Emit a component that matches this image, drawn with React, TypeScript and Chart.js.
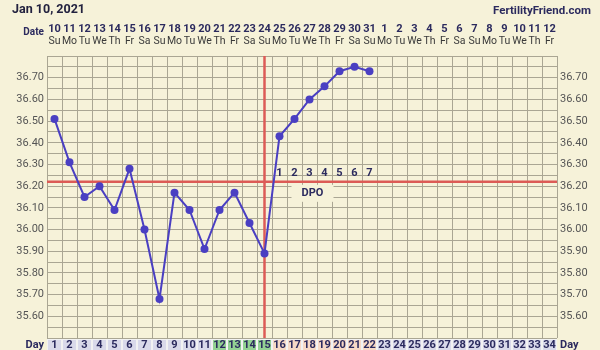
import React, { useEffect, useRef } from "react";
import { Chart, registerables } from "chart.js";

Chart.register(...registerables);

// ---- data ----
const cycleDays = Array.from({ length: 34 }, (_, i) => i + 1);
const dateLabels = [
  "10", "11", "12", "13", "14", "15", "16", "17", "18", "19", "20", "21", "22", "23", "24", "25", "26",
  "27", "28", "29", "30", "31", "1", "2", "3", "4", "5", "6", "7", "8", "9", "10", "11", "12",
];
const weekdayLabels = [
  "Su", "Mo", "Tu", "We", "Th", "Fr", "Sa", "Su", "Mo", "Tu", "We", "Th", "Fr", "Sa", "Su", "Mo", "Tu",
  "We", "Th", "Fr", "Sa", "Su", "Mo", "Tu", "We", "Th", "Fr", "Sa", "Su", "Mo", "Tu", "We", "Th", "Fr",
];
const temps = [
  36.51, 36.31, 36.15, 36.2, 36.09, 36.28, 36.0, 35.68, 36.17, 36.09, 35.91, 36.09, 36.17, 36.03, 35.89,
  36.43, 36.51, 36.6, 36.66, 36.73, 36.75, 36.73,
];
const yTickLabels = [35.6, 35.7, 35.8, 35.9, 36.0, 36.1, 36.2, 36.3, 36.4, 36.5, 36.6, 36.7];
const yMin = 35.5;
const yMax = 36.8;
const coverline = 36.22;
const ovulationDay = 15;
const dpoLabels = ["1", "2", "3", "4", "5", "6", "7"];
const dpoDays = [16, 17, 18, 19, 20, 21, 22];
const fertileDays = [12, 13, 14, 15];
const lutealDays = [16, 17, 18, 19, 20, 21, 22];
const titleText = "Jan 10, 2021";
const siteText = "FertilityFriend.com";

const BG = "#f6f2d9";
const GRID = "#aaa693";
const NAVY = "#2b2a5e";
const RED = "#dc5b56";
const LINE = "#4a3fc2";
const FONT = "Roboto, 'Noto Sans', Arial, sans-serif";

const bbtPlugin = {
  id: "bbtDecor",
  beforeDraw(chart: any) {
    const { ctx, width, height } = chart;
    ctx.save();
    ctx.fillStyle = BG;
    ctx.fillRect(0, 0, width, height);
    ctx.restore();
  },
  beforeDatasetsDraw(chart: any) {
    const { ctx, chartArea } = chart;
    const x = chart.scales.x;
    const y = chart.scales.y;
    ctx.save();
    // DPO label box
    const dpoX = (x.getPixelForValue(17) + x.getPixelForValue(19)) / 2 + 3;
    const dpoY = y.getPixelForValue(coverline) + 11;
    ctx.fillStyle = BG;
    ctx.fillRect(dpoX - 21, dpoY - 8, 42, 17);
    ctx.font = `bold 11px ${FONT}`;
    ctx.fillStyle = NAVY;
    ctx.textAlign = "center";
    ctx.textBaseline = "middle";
    ctx.fillText("DPO", dpoX, dpoY);
    // coverline
    ctx.strokeStyle = RED;
    ctx.lineWidth = 2.5;
    ctx.beginPath();
    const cy = y.getPixelForValue(coverline);
    ctx.moveTo(chartArea.left, cy);
    ctx.lineTo(chartArea.right, cy);
    ctx.stroke();
    // ovulation line
    const ox = x.getPixelForValue(ovulationDay);
    ctx.beginPath();
    ctx.moveTo(ox, chartArea.top);
    ctx.lineTo(ox, chartArea.bottom);
    ctx.stroke();
    ctx.restore();
  },
  afterDraw(chart: any) {
    const { ctx, chartArea } = chart;
    const x = chart.scales.x;
    const y = chart.scales.y;
    ctx.save();
    // title & site
    ctx.textBaseline = "middle";
    ctx.font = `bold 12.5px ${FONT}`;
    ctx.fillStyle = "#23223f";
    ctx.textAlign = "left";
    ctx.fillText(titleText, 12, 10);
    ctx.font = `bold 11.5px ${FONT}`;
    ctx.textAlign = "right";
    ctx.fillStyle = NAVY;
    ctx.fillText(siteText, 591, 11);

    // Date header
    ctx.font = `bold 10px ${FONT}`;
    ctx.fillStyle = NAVY;
    ctx.textAlign = "right";
    ctx.fillText("Date", 44, 32.5);
    cycleDays.forEach((d, i) => {
      const px = x.getPixelForValue(d);
      ctx.font = `bold 11px ${FONT}`;
      ctx.fillStyle = NAVY;
      ctx.textAlign = "center";
      ctx.fillText(dateLabels[i], px, 29.5);
      ctx.font = `10.5px ${FONT}`;
      ctx.fillStyle = "#3a3a3a";
      ctx.fillText(weekdayLabels[i], px, 41.5);
    });

    // y labels both sides
    ctx.font = `11px ${FONT}`;
    ctx.fillStyle = "#555555";
    yTickLabels.forEach((v) => {
      const py = y.getPixelForValue(v);
      ctx.textAlign = "right";
      ctx.fillText(v.toFixed(2), 44, py);
      ctx.textAlign = "left";
      ctx.fillText(v.toFixed(2), 560, py);
    });

    // DPO numbers
    ctx.font = `bold 11px ${FONT}`;
    ctx.fillStyle = NAVY;
    ctx.textAlign = "center";
    const ny = y.getPixelForValue(coverline) - 9;
    dpoDays.forEach((d, i) => {
      ctx.fillText(dpoLabels[i], x.getPixelForValue(d), ny);
    });

    // Day row
    const rowTop = chartArea.bottom + 1;
    const rowH = 15;
    cycleDays.forEach((d) => {
      const l = x.getPixelForValue(d - 0.5);
      const r = x.getPixelForValue(d + 0.5);
      let fill = "#d9d9ea";
      if (fertileDays.includes(d)) fill = "#93d293";
      else if (lutealDays.includes(d)) fill = "#f7d9c6";
      ctx.fillStyle = fill;
      ctx.fillRect(l, rowTop, r - l, rowH);
      ctx.strokeStyle = "#f2f2f2";
      ctx.lineWidth = 1;
      ctx.strokeRect(l + 0.5, rowTop + 0.5, r - l - 1, rowH);
    });
    ctx.font = `bold 11px ${FONT}`;
    ctx.fillStyle = NAVY;
    ctx.textAlign = "center";
    cycleDays.forEach((d) => {
      ctx.fillText(String(d), x.getPixelForValue(d), rowTop + 6.5);
    });
    ctx.textAlign = "right";
    ctx.fillText("Day", 44, rowTop + 6.5);
    ctx.textAlign = "left";
    ctx.fillText("Day", 560, rowTop + 6.5);
    ctx.restore();
  },
};

export default function App() {
  const ref = useRef<HTMLCanvasElement | null>(null);
  useEffect(() => {
    if (!ref.current) return;
    const chart = new Chart(ref.current, {
      type: "line",
      data: {
        datasets: [
          {
            data: temps.map((t, i) => ({ x: cycleDays[i], y: t })),
            borderColor: LINE,
            backgroundColor: LINE,
            borderWidth: 2,
            pointRadius: 4,
            pointBackgroundColor: LINE,
            pointBorderWidth: 0,
            tension: 0,
          },
        ],
      },
      options: {
        responsive: false,
        animation: false,
        devicePixelRatio: 1,
        layout: { padding: { left: 47, right: 43, top: 56, bottom: 12 } },
        plugins: { legend: { display: false }, tooltip: { enabled: false } },
        scales: {
          x: {
            type: "linear",
            min: 0.5,
            max: 34.5,
            ticks: { display: false },
            border: { display: false },
            grid: { color: GRID, lineWidth: 1, drawTicks: false },
            afterBuildTicks: (scale: any) => {
              scale.ticks = Array.from({ length: 35 }, (_, i) => ({ value: 0.5 + i }));
            },
            afterFit: (scale: any) => {
              scale.height = 0;
            },
          },
          y: {
            type: "linear",
            min: yMin,
            max: yMax,
            ticks: { display: false },
            border: { display: false },
            grid: { color: GRID, lineWidth: 1, drawTicks: false },
            afterBuildTicks: (scale: any) => {
              scale.ticks = Array.from({ length: 27 }, (_, i) => ({ value: yMin + i * 0.05 }));
            },
            afterFit: (scale: any) => {
              scale.width = 0;
            },
          },
        },
      },
      plugins: [bbtPlugin],
    });
    return () => chart.destroy();
  }, []);
  return (
    <div style={{ position: "fixed", left: 0, top: 0, width: 600, height: 350 }}>
      <canvas ref={ref} width={600} height={350} style={{ display: "block" }} />
    </div>
  );
}
